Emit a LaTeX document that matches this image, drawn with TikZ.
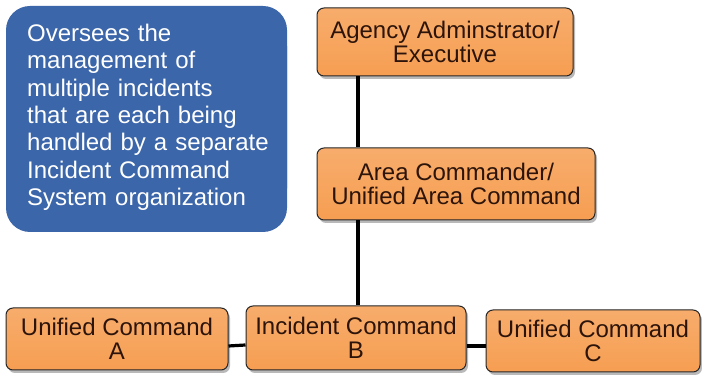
\documentclass[tikz,border=0pt]{standalone}
\usepackage{fontspec}
\setmainfont{Liberation Sans}
\usetikzlibrary{shadows}
\definecolor{boxorange}{RGB}{246,158,82}
\definecolor{boxblue}{RGB}{60,102,170}
\definecolor{boxtext}{RGB}{45,20,10}
\tikzset{
	orgbox/.style={draw=black!85, line width=1pt, rounded corners=7pt,
		top color=boxorange!85!white, bottom color=boxorange,
		text=boxtext, align=center, inner sep=0pt,
		font=\fontsize{24}{24}\selectfont,
		drop shadow={shadow xshift=2pt, shadow yshift=-3pt, opacity=.55}},
	noteblue/.style={fill=boxblue, rounded corners=24pt, text=white,
		align=left, inner sep=0pt, font=\fontsize{24}{27.3}\selectfont},
	link/.style={line width=3.2pt, black}
}
\begin{document}
\begin{tikzpicture}[x=1pt,y=1pt]
%		\draw[help lines] (0,0) grid (702,379);
		\useasboundingbox (0,0) rectangle (702,379);
		\fill[white] (0,0) rectangle (702,379);

		\node[noteblue, minimum width=281pt, minimum height=226pt] (note) at (146.5,260) {};
		\node[noteblue, anchor=north west, text width=260pt] (notetext) at (27,355)
			{Oversees the\\ management of\\ multiple incidents\\ that are each being\\ handled by a separate\\ Incident Command\\ System organization};

		\node[orgbox, minimum width=256pt, minimum height=68pt] (agency) at (445,337) {Agency Adminstrator/\\ Executive};
		\node[orgbox, minimum width=278pt, minimum height=72pt] (area) at (456,195) {Area Commander/\\ Unified Area Command};

		\node[orgbox, minimum width=222pt, minimum height=62pt] (ucA) at (117,40) {Unified Command\\ A};
		\node[orgbox, minimum width=220pt, minimum height=64pt] (icB) at (356,41) {Incident Command\\ B};
		\node[orgbox, minimum width=214pt, minimum height=62pt] (ucC) at (593,38) {Unified Command\\ C};

		\draw[link] (agency.south -| 358,0) -- (area.north -| 358,0);
		\draw[link] (area.south -| 358,0) -- (icB.north -| 358,0);
		\draw[link] ([yshift=-7pt]ucA.east) -- ([yshift=-7pt]icB.west);
		\draw[link] ([yshift=-8pt]icB.east) -- ([yshift=-5pt]ucC.west);
\end{tikzpicture}
\end{document}
